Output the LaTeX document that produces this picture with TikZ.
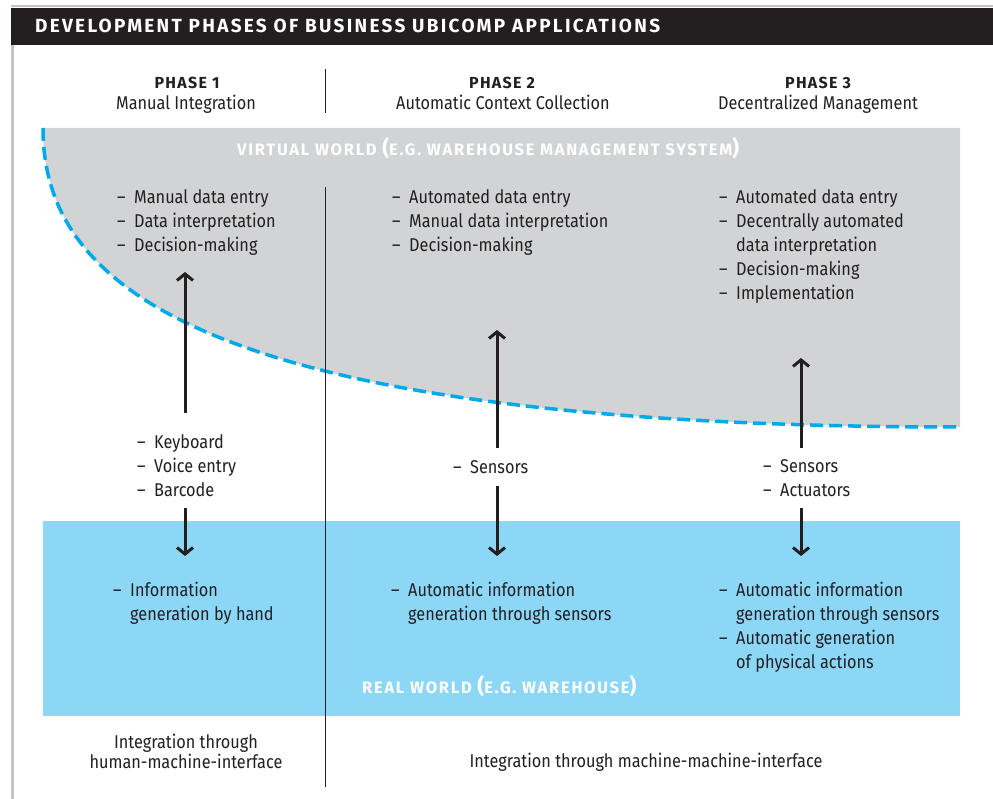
\documentclass[tikz,border=0pt]{standalone}
\usepackage{fontspec}
\setmainfont{Fira Sans}[FakeStretch=0.88]
\newfontfamily\boldfont{Fira Sans}[LetterSpace=8]
\newfontfamily\titlefont{Fira Sans}[LetterSpace=12]
\newfontfamily\wfont{Fira Sans}[LetterSpace=10.5]
\usetikzlibrary{arrows.meta}
\definecolor{vgray}{RGB}{209,211,212}
\definecolor{rblue}{RGB}{141,215,246}
\definecolor{dblue}{RGB}{0,170,235}
\definecolor{ink}{RGB}{35,31,32}
\definecolor{framegray}{RGB}{195,195,197}
\newcommand\itm[1]{\strut\makebox[17pt][l]{–}#1}
\newcommand\cnt[1]{\strut\hspace*{17pt}#1}
\newcommand\bigp[1]{{\fontsize{21}{21}\selectfont #1}}
\tikzset{
 lst/.style={anchor=north west, inner sep=0pt, align=left, text=ink, font=\fontsize{18.5}{24}\selectfont},
 captxt/.style={anchor=base, inner sep=0pt, text=ink, font=\fontsize{18.5}{20}\selectfont},
 phasetxt/.style={anchor=base, inner sep=0pt, text=ink, font=\boldfont\bfseries\fontsize{16}{18}\selectfont},
 worldtxt/.style={anchor=base west, inner sep=0pt, text=white, font=\wfont\bfseries\fontsize{16.5}{18}\selectfont},
 arr/.style={draw=ink, line width=3pt, -{Straight Barb[length=6.5pt,width=16pt]}},
}
\begin{document}
\begin{tikzpicture}[x=1pt,y=-1pt]
\useasboundingbox (0,0) rectangle (993,799);
\fill[white] (0,0) rectangle (993,799);
% frame
\draw[framegray, line width=1.5pt] (11,6) -- (993,6);
\draw[framegray, line width=3pt] (12,45) -- (12,799);
% header
\fill[ink] (11,8) rectangle (993,45);
\node[anchor=base west, inner sep=0pt, text=white, font=\titlefont\bfseries\fontsize{19}{20}\selectfont] (title) at (35,33) {DEVELOPMENT PHASES OF BUSINESS UBICOMP APPLICATIONS};
% phase headings
\node[phasetxt] (ph1) at (187,89) {PHASE 1};
\node[captxt] (ph1s) at (186,110) {Manual Integration};
\node[phasetxt] (ph2) at (502,89) {PHASE 2};
\node[captxt] (ph2s) at (503,110) {Automatic Context Collection};
\node[phasetxt] (ph3) at (818,89) {PHASE 3};
\node[captxt] (ph3s) at (818,110) {Decentralized Management};
% virtual world
\fill[vgray] (43,128) -- (960,128) -- (960,427) .. controls (181,427) and (43,277) .. (43,128) -- cycle;
\draw[dblue, line width=3.5pt, dash pattern=on 13pt off 6pt] (43,128) .. controls (43,277) and (181,427) .. (960,427);
\node[worldtxt] (vw) at (237,156) {VIRTUAL WORLD \bigp{(}E.G. WAREHOUSE MANAGEMENT SYSTEM\bigp{)}};
% real world
\fill[rblue] (43,521) rectangle (960,716);
\node[worldtxt] (rw) at (362,693) {REAL WORLD \bigp{(}E.G. WAREHOUSE\bigp{)}};
% dividers
\draw[ink, line width=1pt] (325,69) -- (325,113);
\draw[ink, line width=1pt] (325,187) -- (325,787);
% lists
\node[lst] (p1top) at (117,186.2) {\itm{Manual data entry}\\\itm{Data interpretation}\\\itm{Decision-making}};
\node[lst] (p2top) at (392,186.2) {\itm{Automated data entry}\\\itm{Manual data interpretation}\\\itm{Decision-making}};
\node[lst] (p3top) at (719,186.2) {\itm{Automated data entry}\\\itm{Decentrally automated}\\\cnt{data interpretation}\\\itm{Decision-making}\\\itm{Implementation}};
\node[lst] (p1mid) at (137,431.2) {\itm{Keyboard}\\\itm{Voice entry}\\\itm{Barcode}};
\node[lst] (p2mid) at (453,456.2) {\itm{Sensors}};
\node[lst] (p3mid) at (763,455.2) {\itm{Sensors}\\\itm{Actuators}};
\node[lst] (p1bot) at (113,579.2) {\itm{Information}\\\cnt{generation by hand}};
\node[lst] (p2bot) at (391,579.2) {\itm{Automatic information}\\\cnt{generation through sensors}};
\node[lst] (p3bot) at (719,579.2) {\itm{Automatic information}\\\cnt{generation through sensors}\\\itm{Automatic generation}\\\cnt{of physical actions}};
% captions
\node[captxt] (c1a) at (186,748) {Integration through};
\node[captxt] (c1b) at (186,768) {human-machine-interface};
\node[captxt] (c2) at (646,767) {Integration through machine-machine-interface};
% arrows
\coordinate (a1u0) at (185,413); \coordinate (a1u1) at (185,272);
\coordinate (a1d0) at (185,508); \coordinate (a1d1) at (185,556);
\coordinate (a2u0) at (497,448); \coordinate (a2u1) at (497,330);
\coordinate (a2d0) at (497,486); \coordinate (a2d1) at (497,556);
\coordinate (a3u0) at (801,448); \coordinate (a3u1) at (801,358);
\coordinate (a3d0) at (801,508); \coordinate (a3d1) at (801,556);
\draw[arr] (a1u0) -- (a1u1);
\draw[arr] (a1d0) -- (a1d1);
\draw[arr] (a2u0) -- (a2u1);
\draw[arr] (a2d0) -- (a2d1);
\draw[arr] (a3u0) -- (a3u1);
\draw[arr] (a3d0) -- (a3d1);
\end{tikzpicture}
\end{document}
